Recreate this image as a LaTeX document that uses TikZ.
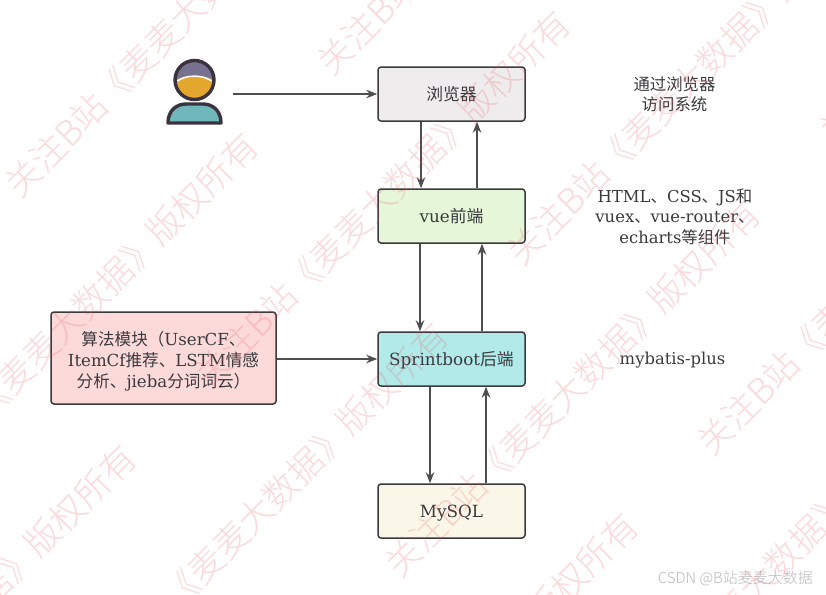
\documentclass[tikz,border=0pt]{standalone}
\usepackage{fontspec}
\setmainfont{DejaVu Serif}
\newfontfamily\zhfont{Noto Sans CJK SC}
\newfontfamily\wmfont{Noto Sans CJK SC Light}
\newcommand{\zh}[1]{{\zhfont #1}}
\usetikzlibrary{arrows.meta}
\definecolor{inkcol}{HTML}{3A3A3D}
\definecolor{wmcol}{HTML}{E8494F}
\definecolor{faceup}{HTML}{77728F}
\definecolor{facelow}{HTML}{E4A72E}
\definecolor{usercol}{HTML}{3A323E}
\definecolor{bodycol}{HTML}{6FB7BB}
\definecolor{browsercol}{HTML}{EFECED}
\definecolor{vuecol}{HTML}{E5F7D8}
\definecolor{bootcol}{HTML}{B2EAEA}
\definecolor{mysqlcol}{HTML}{FBF7E8}
\definecolor{algocol}{HTML}{FDDADA}
\tikzset{
  boxnode/.style={draw=inkcol,line width=1.5pt,rounded corners=3pt,inner sep=0pt,text=inkcol},
  stackbox/.style={boxnode,minimum width=147pt,minimum height=54pt,text height=12.4pt,text depth=0pt,font=\fontsize{16.8}{20}\selectfont},
  notenode/.style={align=center,text=inkcol,font=\fontsize{16.4}{20.5}\selectfont},
  flow/.style={-{Stealth[length=11pt,width=8.5pt]},draw=inkcol!90,line width=1.3pt},
  wmnode/.style={anchor=west,rotate=45,text=wmcol,text opacity=.2,inner sep=0pt,font=\wmfont\fontsize{35}{35}\selectfont},
}
\begin{document}
\begin{tikzpicture}[x=1pt,y=-1pt,>=Stealth,line join=round]
  \useasboundingbox (0,0) rectangle (826,594);
  \clip (0,0) rectangle (826,594);
  \fill[white] (0,0) rectangle (826,594);
  \coordinate (U) at (194.5,80);
  \fill[faceup] (U) circle (19);
  \fill[facelow] (174.5,81) .. controls (184,74) and (205,74) .. (214.5,81) arc (0:180:20 and 19.5) -- cycle;
  \draw[white,line width=1.5pt] (177.5,81) .. controls (186,74.5) and (203,74.5) .. (211.5,81);
  \draw[usercol,line width=3.4pt] (U) circle (19.5);
  \draw[fill=bodycol,draw=usercol,line width=3.4pt] (168,123) .. controls (168,110) and (177,104) .. (186,104) -- (203,104) .. controls (212,104) and (221,110) .. (221,123) -- cycle;
  \coordinate (userout) at (233,94);
  \node[stackbox,fill=browsercol] (browser) at (451.5,94) {\zh{浏览器}};
  \node[stackbox,fill=vuecol] (vue) at (451.5,216) {vue\zh{前端}};
  \node[stackbox,fill=bootcol] (boot) at (451.5,359) {Sprintboot\zh{后端}};
  \node[stackbox,fill=mysqlcol] (mysql) at (451.5,511) {MySQL};
  \node[boxnode,fill=algocol,minimum width=225pt,minimum height=92pt,align=center,font=\fontsize{16.6}{21}\selectfont] (algo) at (163.5,358) {\rule{0pt}{20pt}\zh{算法模块（}UserCF\zh{、}\\ItemCf\zh{推荐、}LSTM\zh{情感}\\\zh{分析、}jieba\zh{分词词云）}};
  \draw[flow] (userout) -- (browser.west);
  \draw[flow] ([xshift=-30.5pt]browser.south) -- ([xshift=-30.5pt]vue.north);
  \draw[flow] ([xshift=25.5pt]vue.north) -- ([xshift=25.5pt]browser.south);
  \draw[flow] ([xshift=-31.5pt]vue.south) -- ([xshift=-31.5pt]boot.north);
  \draw[flow] ([xshift=30.5pt]boot.north) -- ([xshift=30.5pt]vue.south);
  \draw[flow] ([xshift=-21.5pt]boot.south) -- ([xshift=-21.5pt]mysql.north);
  \draw[flow] ([xshift=34.5pt]mysql.north) -- ([xshift=34.5pt]boot.south);
  \draw[flow] ([yshift=-1pt]algo.east) -- (boot.west);
  \node[notenode] (note1) at (674.5,94.5) {\zh{通过浏览器}\\\zh{访问系统}};
  \node[notenode] (note2) at (675,216.5) {HTML\zh{、}CSS\zh{、}JS\zh{和}\\vuex\zh{、}vue-router\zh{、}\\echarts\zh{等组件}};
  \node[notenode] (note3) at (672.5,360) {mybatis-plus};
  \node[anchor=east,text=gray!55,inner sep=0pt,font=\wmfont\fontsize{15}{15}\selectfont] (mark) at (813,578) {CSDN @B站麦麦大数据};
  \foreach \i/\j in {-1/0,0/0,1/0,2/0,-1/1,0/1,1/1,0/2,0/-1,1/-1,2/-1,1/-2}
    \node[wmnode] (wm\i\j) at ({201+190*\i+312*\j},{380+190*\i-122*\j}) {关注B站《麦麦大数据》版权所有};
\end{tikzpicture}
\end{document}
